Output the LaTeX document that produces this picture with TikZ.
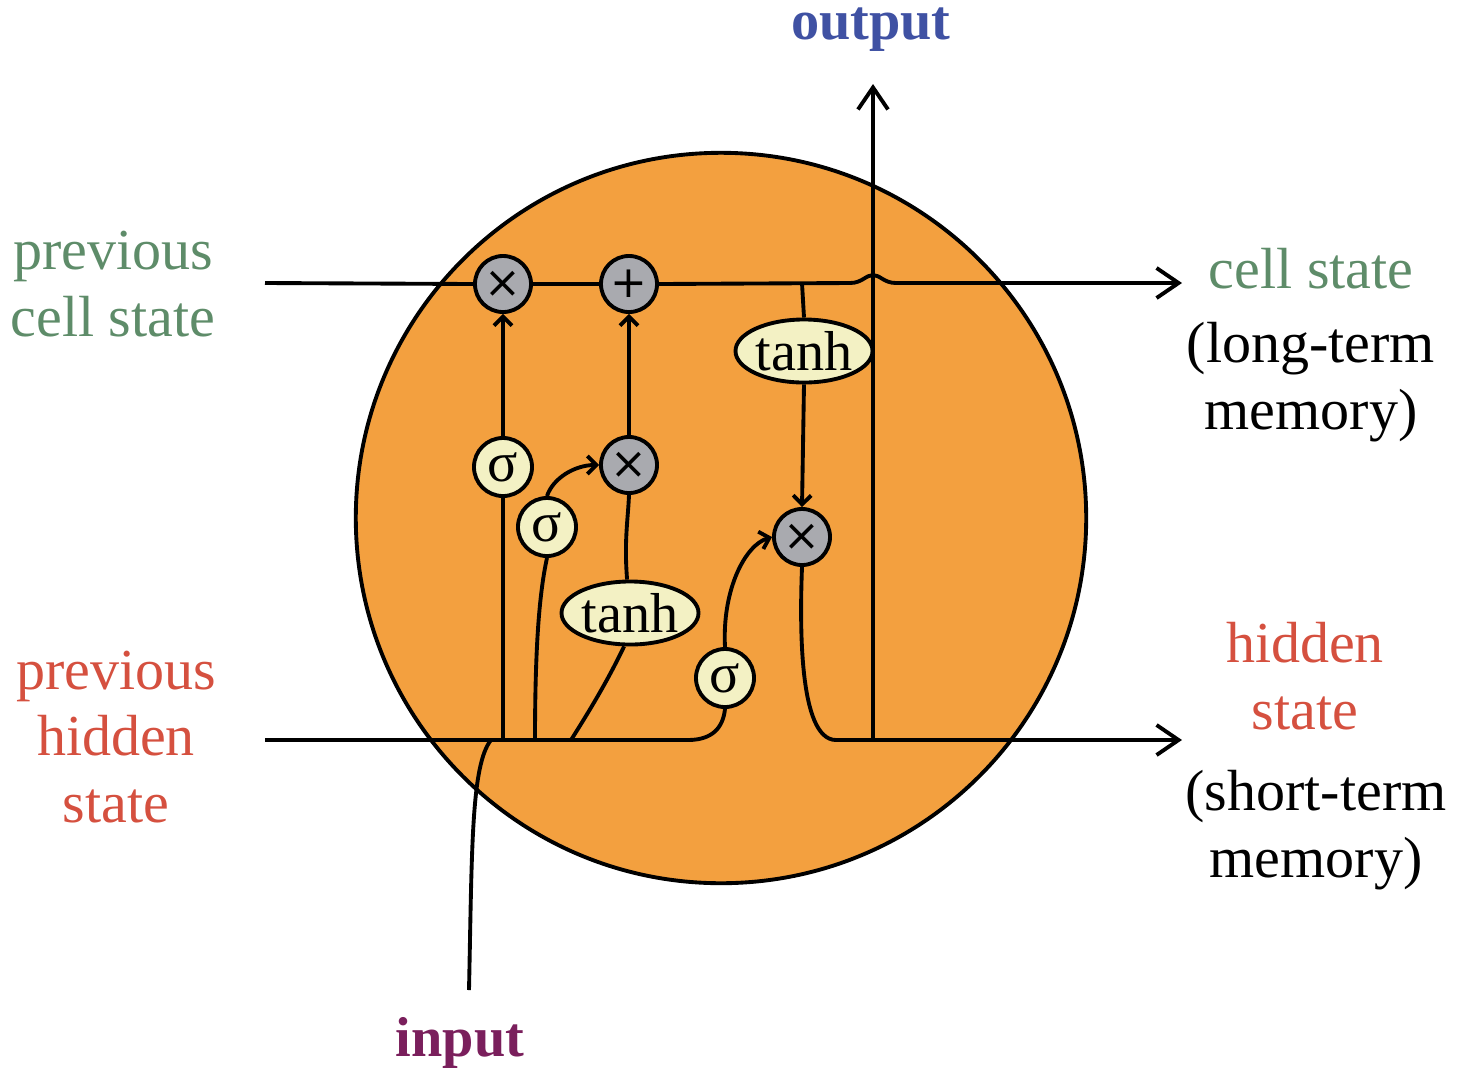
\documentclass[tikz,border=0pt]{standalone}
\usepackage{fontspec}
\setmainfont{Liberation Serif}
\newfontfamily\opfont{DejaVu Sans}
\usetikzlibrary{arrows.meta,shapes.geometric}

\definecolor{cellorange}{HTML}{F3A03F}
\definecolor{gategray}{HTML}{A9AAAF}
\definecolor{actyellow}{HTML}{F3F1C4}
\definecolor{cellgreen}{HTML}{5E8C69}
\definecolor{hidred}{HTML}{D5503F}
\definecolor{outblue}{HTML}{3F51A3}
\definecolor{inpurple}{HTML}{7A1F5C}

\tikzset{
  wire/.style={line width=1.1pt, black},
  into/.style={wire, -{Straight Barb[length=0.9mm,width=1.8mm]}},
  mainarrow/.style={wire, -{Straight Barb[length=2.2mm,width=3mm]}},
  gate/.style={circle, draw, line width=1.1pt, fill=gategray, minimum size=0.56cm,
    inner sep=0pt, font=\opfont\fontsize{12.5}{14}\selectfont},
  act/.style={circle, draw, line width=1.1pt, fill=actyellow, minimum size=0.58cm,
    inner sep=0pt, font=\fontsize{16}{18}\selectfont},
  tanhbox/.style={ellipse, draw, line width=1.1pt, fill=actyellow, minimum width=1.24cm,
    minimum height=0.63cm, inner sep=0pt, font=\fontsize{16}{18}\selectfont},
  lbl/.style={align=center, inner sep=0pt, font=\fontsize{16.5}{19}\selectfont},
}

\begin{document}
\begin{tikzpicture}[x=0.01cm, y=-0.01cm]
  \useasboundingbox (0,0) rectangle (1460,1072);

  % the cell body
  \fill[cellorange] (721,518) circle[radius=3.65cm];
  \draw[line width=1.1pt] (721,518) circle[radius=3.65cm];

  % gates and activations
  \node[gate] (fx) at (503,284) {×};
  \node[gate] (ip) at (629,284) {+};
  \node[act]  (s1) at (503,467) {σ};
  \node[act]  (s2) at (547,527) {σ};
  \node[gate] (ix) at (629,465) {×};
  \node[tanhbox] (t1) at (630,613) {tanh};
  \node[act]  (s3) at (725,678) {σ};
  \node[gate] (ox) at (802,537) {×};
  \node[tanhbox] (t2) at (804,351) {tanh};

  % end points of the outer wires
  \coordinate (cin)  at (265,283);
  \coordinate (cout) at (1182,283);
  \coordinate (hin)  at (265,740);
  \coordinate (hout) at (1182,740);
  \coordinate (tap)  at (802,283);
  \coordinate (hbr)  at (688,740);
  \coordinate (b1)   at (503,740);
  \coordinate (b2)   at (535,740);
  \coordinate (b3)   at (571,740);
  \coordinate (hret) at (836,740);
  \coordinate (obase) at (873,740);
  \coordinate (otop) at (873,84);
  \coordinate (xin)  at (469,990);
  \coordinate (xjoin) at (491,740);

  % cell state line, hopping over the output wire
  \draw[wire] (cin) -- (fx.west);
  \draw[wire] (fx.east) -- (ip.west);
  \draw[mainarrow] (ip.east) -- (850,283)
     .. controls (862,283) and (866,275) .. (873,275)
     .. controls (880,275) and (884,283) .. (896,283) -- (cout);
  \draw[wire] (tap) -- (t2.north);
  \draw[into] (t2.south) -- (ox.north);

  % forget gate
  \draw[wire] (b1) -- (s1.south);
  \draw[into] (s1.north) -- (fx.south);

  % input gate
  \draw[wire] (b2) .. controls (535,640) and (540,590) .. (s2.south);
  \draw[into] (s2.north) .. controls (553,478) and (575,465) .. (ix.west);
  \draw[wire] (b3) .. controls (590,710) and (608,680) .. (t1.-100);
  \draw[wire] (t1.95) .. controls (624,540) and (628,520) .. (ix.south);
  \draw[into] (ix.north) -- (ip.south);

  % output gate
  \draw[wire] (hin) -- (hbr) .. controls (712,740) and (723,728) .. (s3.south);
  \draw[into] (s3.north) .. controls (722,590) and (745,545) .. (ox.west);
  \draw[mainarrow] (ox.south) .. controls (800,620) and (798,740) .. (hret) -- (hout);

  % output and input wires
  \draw[mainarrow] (obase) -- (otop);
  \draw[wire] (xin) .. controls (472,850) and (471,765) .. (xjoin);

  % labels
  \node[lbl, text=cellgreen] (lpc) at (113,284) {previous\\cell state};
  \node[lbl, text=hidred] (lph) at (116,737) {previous\\hidden\\state};
  \node[lbl, anchor=north] (lcs) at (1311,248) {\textcolor{cellgreen}{cell state}\\[2pt](long-term\\memory)};
  \node[lbl, text=hidred] (lhs) at (1305,676) {hidden\\state};
  \node[lbl] (lst) at (1316,830) {(short-term\\memory)};
  \node[lbl, text=outblue, font=\fontsize{16}{19}\selectfont\bfseries] (lout) at (871,30) {output};
  \node[lbl, text=inpurple, font=\fontsize{16}{19}\selectfont\bfseries] (lin) at (460,1043) {input};
\end{tikzpicture}
\end{document}
